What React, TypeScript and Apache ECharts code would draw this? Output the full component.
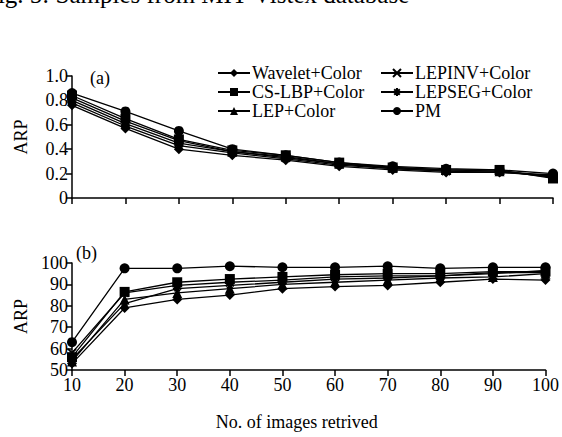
import React, { useEffect, useRef } from "react";
import * as echarts from "echarts";

const xValues = [10, 20, 30, 40, 50, 60, 70, 80, 90, 100];
const seriesNames = ["Wavelet+Color", "CS-LBP+Color", "LEP+Color", "LEPINV+Color", "LEPSEG+Color", "PM"];

// (a) panel
const aWavelet = [0.76, 0.57, 0.4, 0.35, 0.31, 0.26, 0.23, 0.21, 0.21, 0.19];
const aCSLBP = [0.84, 0.65, 0.48, 0.39, 0.35, 0.29, 0.25, 0.23, 0.23, 0.16];
const aLEP = [0.82, 0.63, 0.47, 0.38, 0.34, 0.28, 0.25, 0.23, 0.22, 0.17];
const aLEPINV = [0.8, 0.61, 0.45, 0.38, 0.33, 0.28, 0.24, 0.22, 0.22, 0.18];
const aLEPSEG = [0.78, 0.59, 0.43, 0.37, 0.32, 0.27, 0.24, 0.22, 0.21, 0.18];
const aPM = [0.86, 0.71, 0.55, 0.4, 0.35, 0.29, 0.26, 0.24, 0.23, 0.2];

// (b) panel
const bWavelet = [53, 79, 83, 85, 88, 89, 89.5, 91, 92.5, 92];
const bCSLBP = [56, 86.5, 91, 92.5, 93.5, 94.5, 95, 95, 96, 96];
const bLEP = [54, 83, 86, 88, 90, 91, 92, 93, 93.5, 95];
const bLEPINV = [58, 86, 89.5, 91, 92, 93.5, 94, 94, 95.5, 95.5];
const bLEPSEG = [55, 81, 88, 89.5, 91, 92.5, 93, 94, 95, 96.5];
const bPM = [63, 97.5, 97.5, 98.5, 98, 98, 98.5, 97.5, 98, 98];

const aTicks = [0, 0.2, 0.4, 0.6, 0.8, 1.0];
const bTicks = [50, 60, 70, 80, 90, 100];

const FONT = "Liberation Serif";

const symbols: Record<string, string> = {
  "Wavelet+Color": "diamond",
  "CS-LBP+Color": "rect",
  "LEP+Color": "triangle",
  "LEPINV+Color": "path://M0,0L10,10M10,0L0,10",
  "LEPSEG+Color": "path://M5,0L5,10M0,5L10,5M1.5,1.5L8.5,8.5M8.5,1.5L1.5,8.5",
  PM: "circle",
};
const symbolSizes: Record<string, number> = {
  "Wavelet+Color": 10,
  "CS-LBP+Color": 10,
  "LEP+Color": 10,
  "LEPINV+Color": 8,
  "LEPSEG+Color": 8,
  PM: 10,
};

export default function App() {
  const ref = useRef<HTMLDivElement>(null);
  useEffect(() => {
    if (!ref.current) return;
    const chart = echarts.init(ref.current, undefined, { renderer: "svg" });
    const aData = [aWavelet, aCSLBP, aLEP, aLEPINV, aLEPSEG, aPM];
    const bData = [bWavelet, bCSLBP, bLEP, bLEPINV, bLEPSEG, bPM];
    const mkSeries = (arr: number[][], idx: number) =>
      seriesNames.map((name, i) => ({
        name,
        type: "line",
        xAxisIndex: idx,
        yAxisIndex: idx,
        data: xValues.map((x, j) => [x, arr[i][j]]),
        symbol: symbols[name],
        symbolSize: symbolSizes[name],
        showAllSymbol: true,
        lineStyle: { color: "#000", width: 1.3 },
        itemStyle: {
          color: "#000",
          borderColor: "#000",
          borderWidth: name.startsWith("LEPINV") || name.startsWith("LEPSEG") ? 1.8 : 0,
        },
        emphasis: { disabled: true },
      }));
    const axisLine = { show: true, lineStyle: { color: "#000", width: 1.5 } };
    const axisTick = { show: true, inside: false, length: 6, lineStyle: { color: "#000", width: 1.5 } };
    const labelStyle = { color: "#000", fontFamily: FONT, fontSize: 18 };
    const legendBase = {
      orient: "vertical",
      top: 59,
      itemWidth: 32,
      itemHeight: 10,
      itemGap: 1,
      textStyle: { color: "#000", fontFamily: FONT, fontSize: 18, padding: [0, 0, 0, -3] },
      selectedMode: false,
    };
    chart.setOption({
      animation: false,
      backgroundColor: "#fff",
      textStyle: { fontFamily: FONT },
      grid: [
        { left: 72, right: 9, top: 76, height: 122 },
        { left: 72, right: 9, top: 263, height: 107 },
      ],
      legend: [
        { ...legendBase, left: 212, data: seriesNames.slice(0, 3) },
        { ...legendBase, left: 375, data: seriesNames.slice(3) },
      ],
      xAxis: [
        {
          gridIndex: 0,
          type: "value",
          min: 10,
          max: 100,
          interval: 10,
          axisLine,
          axisTick,
          axisLabel: { show: false },
          splitLine: { show: false },
        },
        {
          gridIndex: 1,
          type: "value",
          min: 10,
          max: 100,
          interval: 10,
          axisLine,
          axisTick,
          axisLabel: { ...labelStyle, margin: 6 },
          splitLine: { show: false },
          name: "No. of images retrived",
          nameLocation: "middle",
          nameGap: 43,
          nameTextStyle: { ...labelStyle, padding: [0, 24, 0, 0] },
        },
      ],
      yAxis: [
        {
          gridIndex: 0,
          type: "value",
          min: aTicks[0],
          max: aTicks[aTicks.length - 1],
          interval: 0.2,
          axisLine,
          axisTick,
          axisLabel: {
            ...labelStyle,
            margin: 4,
            formatter: (v: number) => (v === 0 ? "0" : v.toFixed(1)),
          },
          splitLine: { show: false },
          name: "ARP",
          nameLocation: "middle",
          nameGap: 42,
          nameTextStyle: labelStyle,
        },
        {
          gridIndex: 1,
          type: "value",
          min: bTicks[0],
          max: bTicks[bTicks.length - 1],
          interval: 10,
          axisLine,
          axisTick,
          axisLabel: { ...labelStyle, margin: 4 },
          splitLine: { show: false },
          name: "ARP",
          nameLocation: "middle",
          nameGap: 42,
          nameTextStyle: labelStyle,
        },
      ],
      graphic: [
        {
          type: "text",
          left: 90,
          top: 69,
          style: { text: "(a)", fill: "#000", fontFamily: FONT, fontSize: 18 },
        },
        {
          type: "text",
          left: 76,
          top: 244,
          style: { text: "(b)", fill: "#000", fontFamily: FONT, fontSize: 18 },
        },
        {
          type: "text",
          x: -16,
          y: -18,
          style: {
            text: "Fig. 5: Samples from MIT-Vistex database",
            fill: "#000",
            fontFamily: FONT,
            fontSize: 25,
            verticalAlign: "top",
          },
        },
      ],
      series: [...mkSeries(aData, 0), ...mkSeries(bData, 1)],
    });
    return () => chart.dispose();
  }, []);
  return (
    <div
      ref={ref}
      style={{ position: "absolute", left: 0, top: 0, width: 562, height: 437 }}
    />
  );
}
